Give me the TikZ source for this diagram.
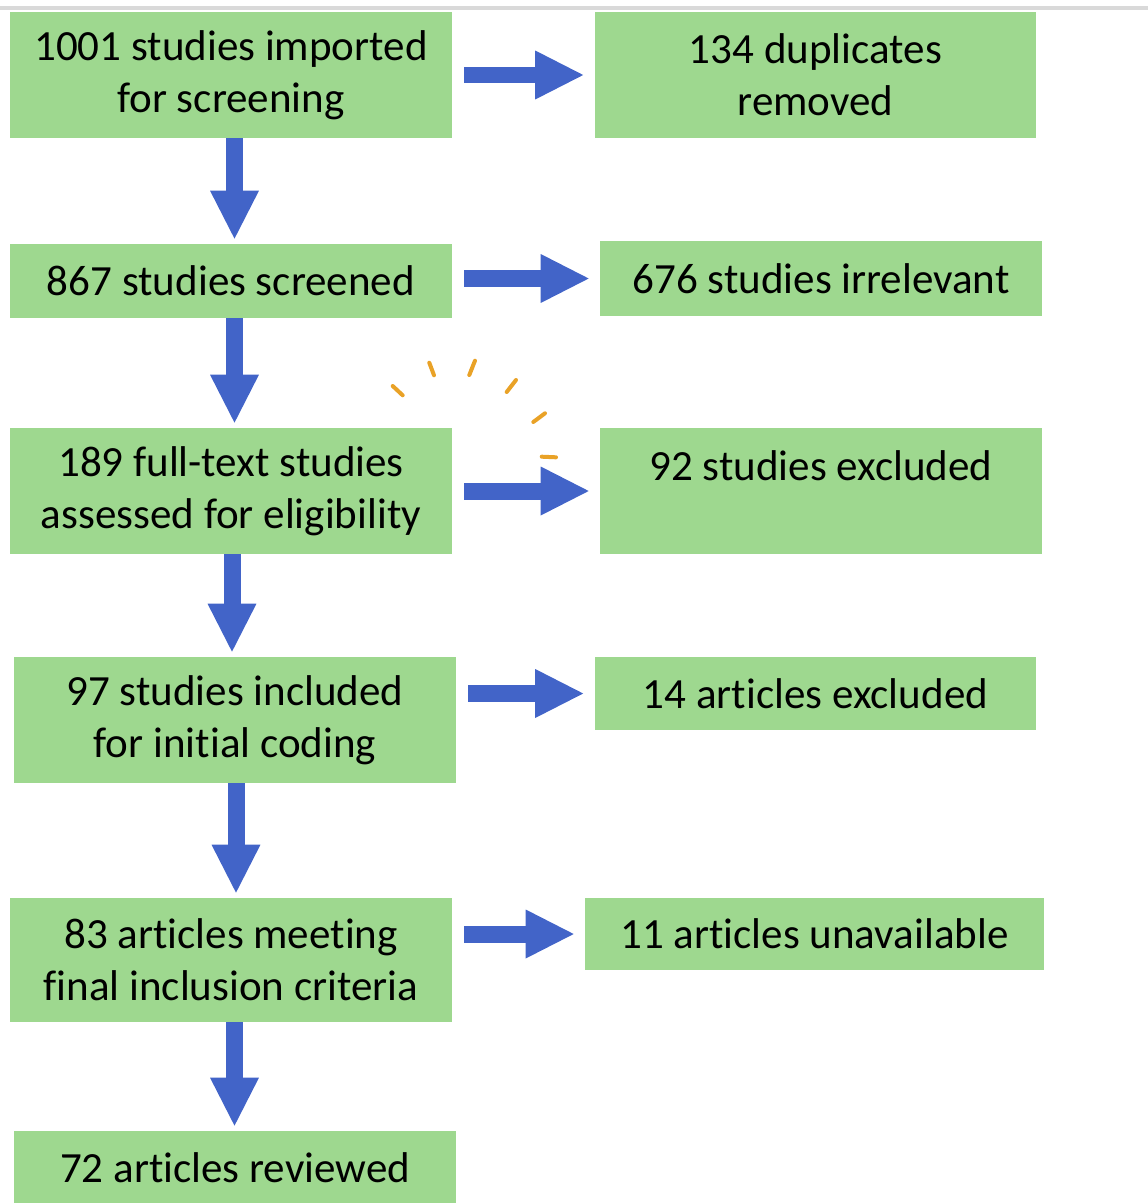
\documentclass[tikz,border=0pt]{standalone}
\usepackage{fontspec}
\setmainfont{Carlito}[Ligatures=NoCommon]
\usepackage{xcolor}
\usepackage{tikz}
\usetikzlibrary{positioning,arrows.meta}
\definecolor{boxgreen}{HTML}{9ED88F}
\definecolor{arrowblue}{HTML}{4264C8}
\definecolor{spinorange}{HTML}{E9A227}
\tikzset{box node/.style={fill=boxgreen,inner sep=0pt,align=center,minimum width=8.84cm,font=\fontsize{24.5}{29.5}\selectfont},
  flow arrow/.style={draw=arrowblue,line width=0.34cm,-{Triangle[width=0.98cm,length=0.96cm,line width=0pt]}},
  right arrow/.style={flow arrow,shorten <=0.24cm,shorten >=0.22cm},
  down arrow/.style={flow arrow,shorten >=0.1cm},
  spin dash/.style={draw=spinorange,line width=0.08cm,line cap=round},}

\begin{document}
\begin{tikzpicture}[x=0.02cm,y=-0.02cm]
    \useasboundingbox (0,0) rectangle (1148,1203);
    \draw[gray!30,line width=0.08cm] (0,8) -- (1148,8);

    \node[box node,minimum height=2.52cm] (imp) at (231,75) {1001 studies imported\\for screening};
    \node[box node,minimum height=2.52cm] (dup) at (815.5,75) {134 duplicates\\removed};
    \node[box node,minimum height=1.48cm] (scr) at (231,281) {867 studies screened};
    \node[box node,minimum height=1.5cm] (irr) at (821,278.5) {676 studies irrelevant};
    \node[box node,minimum height=2.52cm] (elig) at (231,491) {189 full-text studies\\assessed for eligibility};
    \node[box node,minimum height=2.52cm] (excl) at (821,491) {92 studies excluded\\\mbox{}};
    \node[box node,minimum height=2.52cm] (incl) at (235,720) {97 studies included\\for initial coding};
    \node[box node,minimum height=1.46cm] (art) at (815.5,693.5) {14 articles excluded};
    \node[box node,minimum height=2.48cm] (fin) at (231,960) {83 articles meeting\\final inclusion criteria};
    \node[box node,minimum width=9.18cm,minimum height=1.44cm] (una) at (814.5,934) {11 articles unavailable};
    \node[box node,minimum height=1.48cm] (rev) at (235,1168) {72 articles reviewed};

    % arrows to the right
    \draw[right arrow] (imp.east |- dup.west) -- (dup.west);
    \draw[right arrow] (scr.east |- irr.west) -- (irr.west);
    \draw[right arrow] (elig.east |- excl.west) -- (excl.west);
    \draw[right arrow] (incl.east |- art.west) -- (art.west);
    \draw[right arrow] (fin.east |- una.west) -- (una.west);

    % arrows down
    \draw[down arrow] ([xshift=0.07cm]imp.south) -- ([xshift=0.07cm]imp.south |- scr.north);
    \draw[down arrow] ([xshift=0.07cm]scr.south) -- ([xshift=0.07cm]scr.south |- elig.north);
    \draw[down arrow] ([xshift=0.02cm]elig.south) -- ([xshift=0.02cm]elig.south |- incl.north);
    \draw[down arrow] ([xshift=0.02cm]incl.south) -- ([xshift=0.02cm]incl.south |- fin.north);
    \draw[down arrow] ([xshift=0.07cm]fin.south) -- ([xshift=0.07cm]fin.south |- rev.north);

    % orange dashes
    \draw[spin dash] (392.7,386) -- (402.7,395.3);
    \draw[spin dash] (429.3,362.7) -- (434,375.3);
    \draw[spin dash] (475,360.7) -- (469.3,375);
    \draw[spin dash] (516,380) -- (506.7,392);
    \draw[spin dash] (545,413.3) -- (533.3,422);
    \draw[spin dash] (541.7,456.7) -- (556,457.3);
\end{tikzpicture}
\end{document}
